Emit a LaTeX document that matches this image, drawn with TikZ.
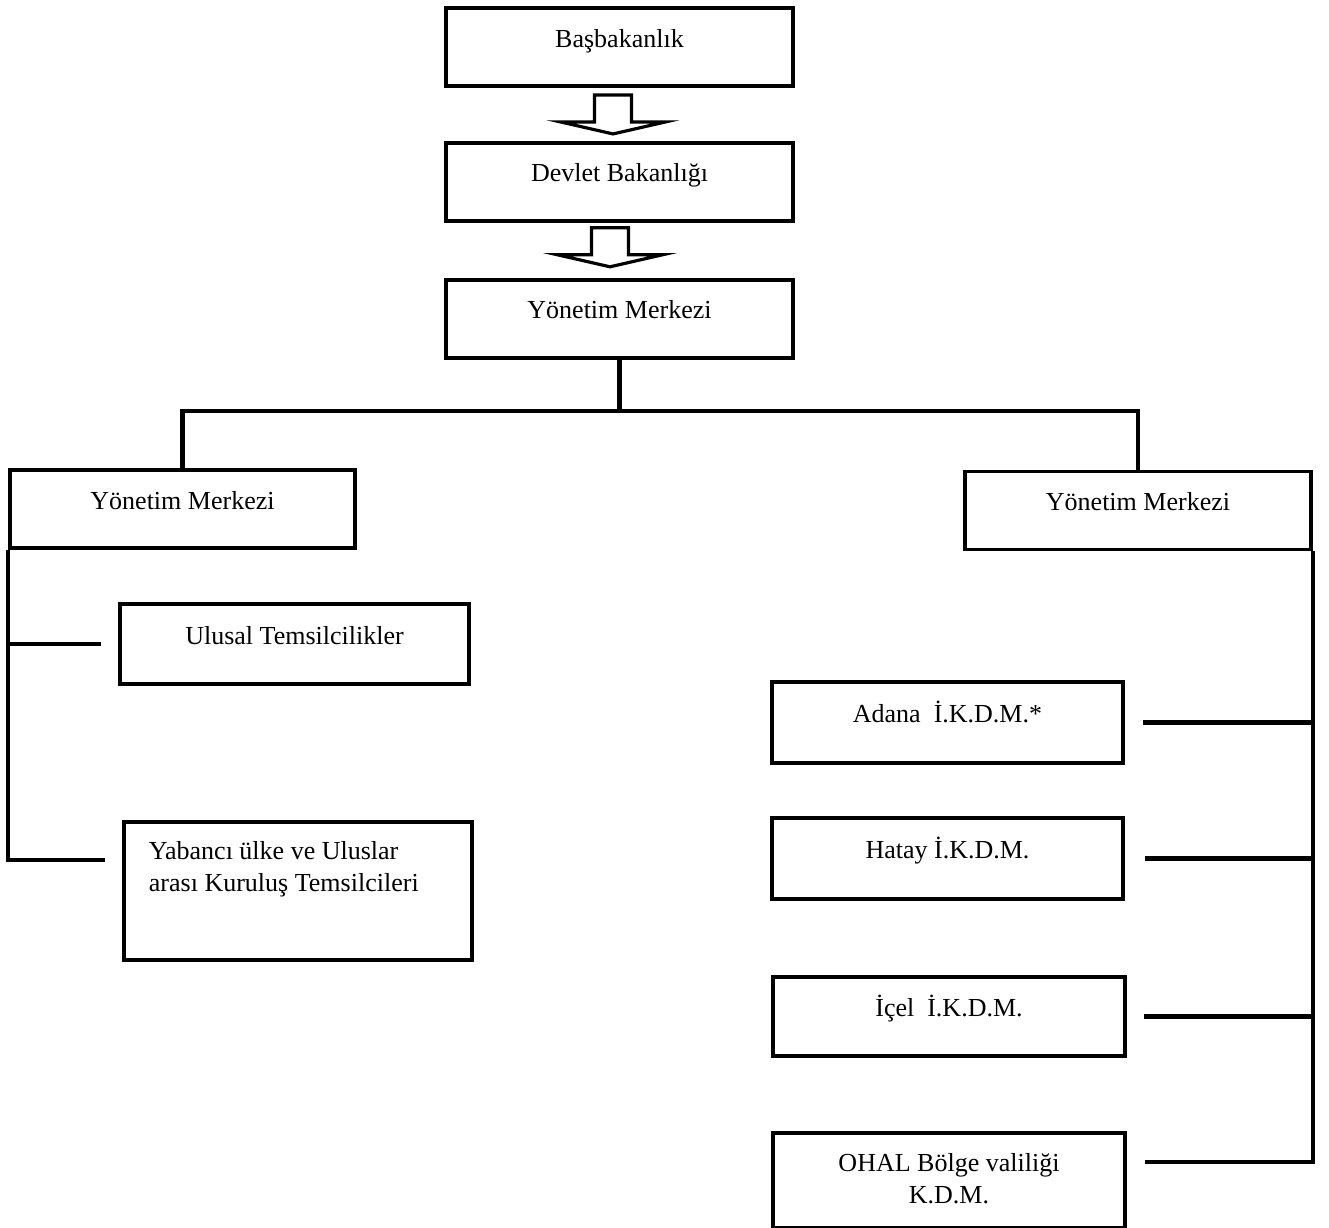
\documentclass[tikz,border=0pt]{standalone}
\usepackage{fontspec}
\setmainfont{Liberation Serif}
\usetikzlibrary{positioning,calc}

\begin{document}
\begin{tikzpicture}[font=\fontsize{14.8}{18}\selectfont,
    box/.style={draw,line width=2.2pt,inner ysep=0pt,text height=0.78cm,text depth=0.78cm},
    conn/.style={line width=2.6pt},
    downarrow/.pic={\draw[line width=1.8pt] (-0.37,0.39) -- (-0.37,-0.15) -- (-1.05,-0.15)
      -- (0,-0.39) -- (1.05,-0.15) -- (0.37,-0.15) -- (0.37,0.39) -- cycle;}]
  \useasboundingbox (0,0) rectangle (26.58,-24.56);
  % top chain
  \node[box,minimum width=6.94cm] (bas) at (12.39,-0.94) {Başbakanlık};
  \node[box,minimum width=6.94cm] (dev) [below=1.06cm of bas] {Devlet Bakanlığı};
  \node[box,minimum width=6.94cm] (ym) [below=1.1cm of dev] {Yönetim Merkezi};
  \pic at ($(bas.south)!0.5!(dev.north)+(-0.13,0)$) {downarrow};
  \pic at ($(dev.south)!0.5!(ym.north)+(-0.19,0.06)$) {downarrow};
  % second level
  \node[box,minimum width=6.9cm] (ymL) at (3.65,-10.18) {Yönetim Merkezi};
  \node[box,minimum width=6.92cm] (ymR) at (22.76,-10.21) {Yönetim Merkezi};
  % left branch
  \node[box,minimum width=6.98cm,text height=0.8cm,text depth=0.8cm] (ulusal) at (5.89,-12.88) {Ulusal Temsilcilikler};
  \node[box,anchor=north west,inner xsep=0pt,minimum width=6.96cm,text height=0.76cm,text depth=2cm] (yab) at (2.44,-16.4)
    {\parbox[t]{6.96cm}{\raggedright\leftskip=0.5cm Yabancı ülke ve Uluslar\\arası Kuruluş Temsilcileri}};
  % right branch
  \node[box,minimum width=7.02cm,text height=0.81cm,text depth=0.81cm] (adana) at (18.95,-14.45) {Adana\ \ İ.K.D.M.*};
  \node[box,minimum width=7.02cm,text height=0.81cm,text depth=0.81cm] (hatay) at (18.95,-17.17) {Hatay İ.K.D.M.};
  \node[box,minimum width=7.04cm,text height=0.79cm,text depth=0.79cm] (icel) at (18.98,-20.33) {İçel\ \ İ.K.D.M.};
  \node[box,anchor=north,inner xsep=0pt,minimum width=7.04cm,text height=0.78cm,text depth=1.12cm] (ohal) at (18.98,-22.62)
    {\parbox[t]{7.04cm}{\centering OHAL Bölge valiliği\\K.D.M.}};
  % connectors
  \coordinate (bus) at (12.39,-8.22);
  \draw[conn] (ym.south) -- (bus);
  \draw[conn] (ymL.north) |- (bus) -| (ymR.north);
  \coordinate[left=0.34cm of ulusal.west] (uEnd);
  \coordinate[left=0.34cm of yab.base west] (yEnd);
  \draw[conn] (ymL.south west) |- (uEnd);
  \draw[conn] (ymL.south west) |- (yEnd);
  \coordinate[right=0.36cm of adana.east] (aEnd);
  \coordinate[right=0.4cm of hatay.east] (hEnd);
  \coordinate[right=0.34cm of icel.east] (iEnd);
  \coordinate (oEnd) at ($(ohal.north east)+(0.36,-0.62)$);
  \draw[conn] (ymR.south east) |- (aEnd);
  \draw[conn] (ymR.south east) |- (hEnd);
  \draw[conn] (ymR.south east) |- (iEnd);
  \draw[conn] (ymR.south east) |- (oEnd);
\end{tikzpicture}
\end{document}
